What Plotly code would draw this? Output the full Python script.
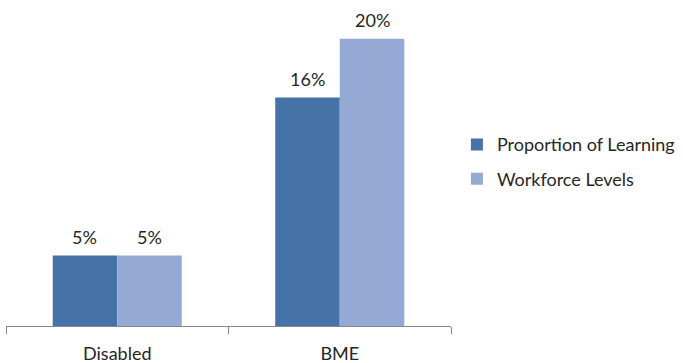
import plotly.graph_objects as go

categories = ["Disabled", "BME"]
series_names = ["Proportion of Learning", "Workforce Levels"]
proportion_of_learning = [4.9, 15.9]
workforce_levels = [4.9, 20.0]
colors = ["#4572A7", "#94AAD4"]

FONT = "Lato"
bargap = 0.42

fig = go.Figure()
for k, (name, vals, col) in enumerate(zip(series_names, [proportion_of_learning, workforce_levels], colors)):
    fig.add_trace(go.Bar(
        x=categories, y=vals, name=name, legendgroup=f"g{k}",
        marker=dict(color=col, line=dict(width=0)),
    ))

# value labels above bars
bw = (1 - bargap) / 2
for s, vals in enumerate([proportion_of_learning, workforce_levels]):
    off = (s - 0.5) * bw
    for i, v in enumerate(vals):
        fig.add_annotation(
            x=i + off, y=v, xref="x", yref="y", text=f"{v:.0f}%",
            showarrow=False, yanchor="bottom", yshift=6,
            font=dict(family=FONT, size=18, color="#262626"),
        )

fig.update_layout(
    width=683, height=363,
    margin=dict(l=6, r=232, t=10, b=37, autoexpand=False),
    paper_bgcolor="white", plot_bgcolor="white",
    barmode="group", bargap=bargap, bargroupgap=0,
    font=dict(family=FONT, size=18, color="#262626"),
    showlegend=True,
    legend=dict(xref="container", x=0.669, y=0.52, xanchor="left", yanchor="middle",
                font=dict(family=FONT, size=18, color="#262626"),
                tracegroupgap=8, itemwidth=30),
    xaxis=dict(type="category", range=[-0.5, 1.5], showline=True, linecolor="#888888",
               linewidth=1, ticks="outside", tickson="boundaries", ticklen=7,
               tickcolor="#888888", showgrid=False, tickfont=dict(size=18),
               ticklabelstandoff=11),
    yaxis=dict(range=[0, 22], visible=False, showgrid=False, zeroline=False),
)

fig.write_html("out.html", config={"displayModeBar": False},
               post_script="document.body.style.margin='0';")
